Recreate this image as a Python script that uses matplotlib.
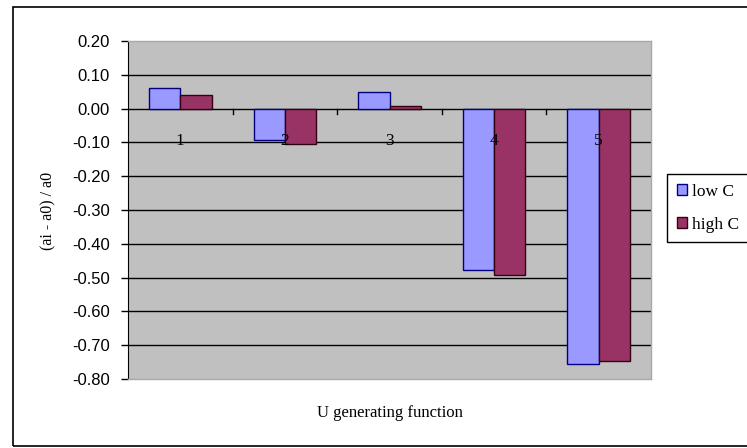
import numpy as np
import matplotlib.pyplot as plt
from matplotlib.patches import Rectangle

plt.rcParams['font.family'] = ['Liberation Serif', 'DejaVu Serif']

categories = ['1', '2', '3', '4', '5']
low_c = [0.060, -0.093, 0.048, -0.478, -0.756]
high_c = [0.040, -0.106, 0.009, -0.491, -0.748]
y_ticks = [0.20, 0.10, 0.00, -0.10, -0.20, -0.30, -0.40, -0.50, -0.60, -0.70, -0.80]

W, H = 747, 448
fig = plt.figure(figsize=(W / 100, H / 100), dpi=100)
ax = fig.add_axes([128 / W, 1 - 379 / H, 523 / W, 338 / H])
ax.set_facecolor('#c0c0c0')

x = np.arange(len(categories))
bw = 0.3
ax.bar(x - bw / 2, low_c, bw, color='#9999ff', edgecolor='#000080', linewidth=1, label='low C', zorder=3)
ax.bar(x + bw / 2, high_c, bw, color='#993366', edgecolor='#330011', linewidth=1, label='high C', zorder=3)

ax.set_xlim(-0.5, len(categories) - 0.5)
ax.set_ylim(-0.8, 0.2)

# horizontal gridlines (inner ones only) and the category axis at zero
for v in y_ticks[1:-1]:
    ax.axhline(v, color='black', linewidth=1, zorder=2)

ax.set_yticks(y_ticks)
ax.set_yticklabels([f'{v:.2f}' for v in y_ticks], family='Liberation Sans', fontsize=12)
ax.tick_params(axis='y', direction='out', length=5, width=1, color='black', pad=8)
ax.set_xticks([])

# tick marks between categories on the zero line
for b in x[:-1] + 0.5:
    ax.plot([b, b], [0, -0.015], color='black', linewidth=1, zorder=4)
for i, lab in enumerate(categories):
    ax.text(i, -0.097, lab, ha='center', va='center', fontsize=12.5, zorder=5)

ax.spines['left'].set_color('black')
for s in ('top', 'right', 'bottom'):
    ax.spines[s].set_color('#a8a8a8')
    ax.spines[s].set_linewidth(1)

fig.text(390 / W, 1 - 413 / H, 'U generating function', ha='center', va='center', fontsize=12)
fig.text(48 / W, 1 - 211 / H, '(ai - a0) / a0', ha='center', va='center', rotation=90, fontsize=11.5)

leg = fig.legend(loc='upper left', bbox_to_anchor=(667 / W, 1 - 174 / H), fontsize=12.5,
                 frameon=True, fancybox=False, edgecolor='black', framealpha=1,
                 handlelength=0.6, handleheight=0.6, handletextpad=0.3,
                 labelspacing=1.0, borderpad=0.55, borderaxespad=0)
leg.get_frame().set_linewidth(1)

# chart area border
fig.patches.append(Rectangle((13 / W, 1 - 446 / H), 1, 439 / H, transform=fig.transFigure,
                             fill=False, edgecolor='black', linewidth=1.2, clip_on=False))

fig.savefig('out.png', dpi=100)
